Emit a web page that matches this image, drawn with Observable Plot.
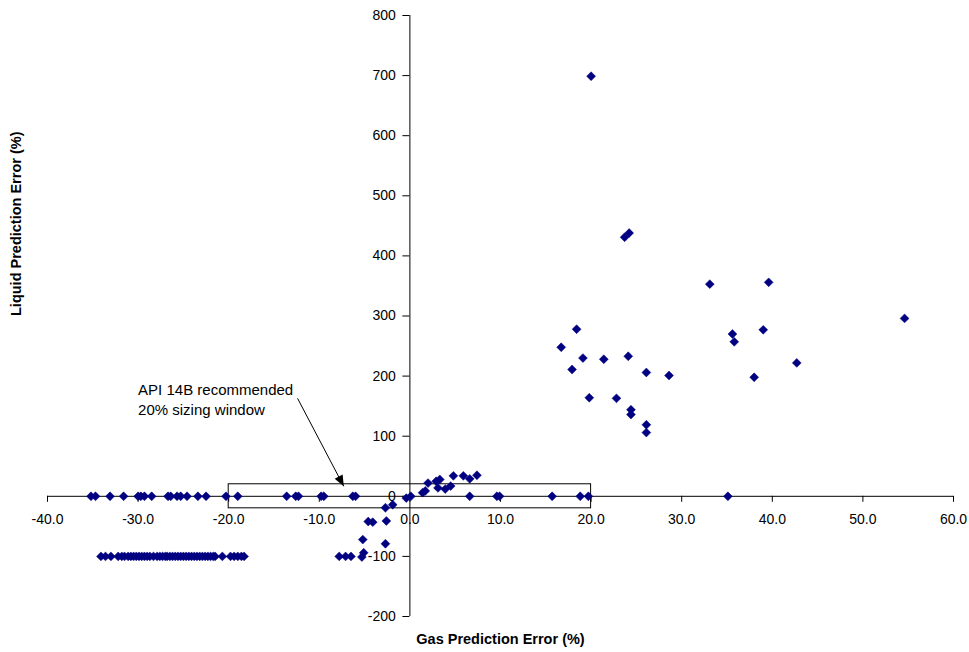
<!DOCTYPE html>
<html>
<head>
<meta charset="utf-8">
<script src="https://cdn.jsdelivr.net/npm/d3@7"></script>
<script src="https://cdn.jsdelivr.net/npm/@observablehq/plot@0.6"></script>
<style>
  html, body { margin: 0; padding: 0; background: #fff; }
  #chart svg { display: block; }
</style>
</head>
<body>
<div id="chart"></div>
<script>
// Gas prediction error (%) and liquid prediction error (%) for each test point
const gasError = [
  // liquid error = 0 row, negative gas error
  -35.2, -34.7, -33.1, -31.6, -30.0, -29.7, -29.3, -28.5, -26.7, -26.4, -25.7, -25.3,
  -24.6, -23.4, -22.5, -20.3, -19.0, -13.6, -12.6, -12.3, -9.8, -9.5, -6.3, -6.0,
  // near origin
  -0.4, 0.1, 1.4, 1.7, 2.0, 2.9, 3.3, 3.1, 3.9, 4.5, 4.8, 5.9, 6.6, 7.4,
  // liquid error = 0 row, positive gas error
  6.6, 9.6, 9.9, 15.7, 18.8, 19.7, 35.1,
  // small negative
  -1.9, -2.7, -2.6, -4.6, -4.1, -5.2, -2.7, -5.3, -5.1, -7.8, -7.1, -6.5,
  // liquid error = -100 row
  -34.1, -33.6, -33.0, -32.2, -31.8, -31.5, -31.1, -30.8, -30.5, -30.2, -29.9, -29.6,
  -29.3, -29.0, -28.7, -28.3, -27.9, -27.6, -27.3, -27.0, -26.8, -26.5, -26.2, -25.9,
  -25.6, -25.3, -25.0, -24.7, -24.4, -24.1, -23.8, -23.5, -23.2, -22.9, -22.6, -22.3,
  -22.0, -21.7, -21.5, -20.7, -19.8, -19.4, -19.0, -18.6, -18.3,
  // upper right
  20.0, 23.7, 24.2, 33.1, 39.6, 54.6, 18.4, 16.7, 19.1, 21.4, 24.1, 17.9, 26.1, 28.6,
  19.8, 22.8, 24.4, 24.4, 26.1, 26.1, 35.6, 35.8, 39.0, 42.7, 38.0
];
const liquidError = [
  0, 0, 0, 0, 0, 0, 0, 0, 0, 0, 0, 0,
  0, 0, 0, 0, 0, 0, 0, 0, 0, 0, 0, 0,
  -3, 0, 6, 9, 22, 25, 28, 14, 12, 17, 34, 34, 29, 35,
  0, 0, 0, 0, 0, 0, 0,
  -14, -19, -41, -42, -43, -72, -79, -101, -94, -100, -100, -100,
  -100, -100, -100, -100, -100, -100, -100, -100, -100, -100, -100, -100,
  -100, -100, -100, -100, -100, -100, -100, -100, -100, -100, -100, -100,
  -100, -100, -100, -100, -100, -100, -100, -100, -100, -100, -100, -100,
  -100, -100, -100, -100, -100, -100, -100, -100, -100,
  699, 431, 438, 353, 356, 296, 278, 248, 230, 228, 233, 211, 206, 201,
  164, 163, 144, 136, 119, 106, 270, 257, 277, 222, 198
];

const xTicks = [-40, -30, -20, -10, 0, 10, 20, 30, 40, 50, 60];
const yTicks = [-200, -100, 0, 100, 200, 300, 400, 500, 600, 700, 800];

// API 14B recommended 20% sizing window
const windowGas = [-20, 20];
const windowLiquid = [-20, 20];

// annotation
const noteText = "API 14B recommended\n20% sizing window";
const notePos = [-30.0, 162];
const arrowFrom = [-12.4, 163];
const arrowTo = [-7.3, 16.6];

const xLabel = "Gas Prediction Error (%)";
const yLabel = "Liquid Prediction Error (%)";

const font = "'Liberation Sans', Arial, Helvetica, sans-serif";

const arrowHead = {
  draw(ctx) {
    ctx.moveTo(0, 0);
    ctx.lineTo(-4.5, -11);
    ctx.lineTo(4.5, -11);
    ctx.closePath();
  }
};
const arrowAngle = -Math.atan2(46, 88) * 180 / Math.PI;

const chart = Plot.plot({
  width: 969,
  height: 652,
  marginLeft: 47,
  marginRight: 16,
  marginTop: 15,
  marginBottom: 36,
  x: { domain: [xTicks[0], xTicks[xTicks.length - 1]], axis: null },
  y: { domain: [yTicks[0], yTicks[yTicks.length - 1]], axis: null },
  style: { fontFamily: font, background: "#fff", color: "#000" },
  marks: [
    // sizing window
    Plot.rect([0], {
      x1: windowGas[0], x2: windowGas[1], y1: windowLiquid[0], y2: windowLiquid[1],
      fill: "none", stroke: "#000", strokeWidth: 1
    }),
    // axes lines through zero
    Plot.ruleY([0], { x1: xTicks[0], x2: xTicks[xTicks.length - 1], stroke: "#000" }),
    Plot.ruleX([0], { y1: yTicks[0], y2: yTicks[yTicks.length - 1], stroke: "#000" }),
    // tick marks
    Plot.ruleX(xTicks, { x: d => d, y1: 0, y2: 0, insetBottom: -6, stroke: "#000" }),
    Plot.ruleY(yTicks, { y: d => d, x1: 0, x2: 0, insetLeft: -7, stroke: "#000" }),
    // tick labels
    Plot.text(xTicks, { x: d => d, y: 0, dy: 23, text: d => d.toFixed(1), fontSize: 14, fill: "#000" }),
    Plot.text(yTicks, { x: 0, y: d => d, dx: -14, textAnchor: "end", text: d => String(d), fontSize: 14, fill: "#000" }),
    // annotation
    Plot.text([noteText], { x: notePos[0], y: notePos[1], text: d => d, textAnchor: "start", lineHeight: 1.3, fontSize: 15, fill: "#000" }),
    Plot.link([0], { x1: arrowFrom[0], y1: arrowFrom[1], x2: arrowTo[0], y2: arrowTo[1], stroke: "#000", strokeWidth: 1 }),
    Plot.dot([0], { x: arrowTo[0], y: arrowTo[1], symbol: arrowHead, fill: "#000", stroke: "none", rotate: arrowAngle }),
    // data points
    Plot.dot(gasError, { x: gasError, y: liquidError, symbol: "diamond2", r: 4, fill: "#000080", stroke: "#000080", strokeWidth: 0.5 }),
    // axis titles
    Plot.text([xLabel], { frameAnchor: "bottom", dy: 27, text: d => d, fontWeight: "bold", fontSize: 14.5, fill: "#000" }),
    Plot.text([yLabel], { frameAnchor: "left", dx: -31, rotate: -90, text: d => d, fontWeight: "bold", fontSize: 14.5, fill: "#000" })
  ]
});

document.getElementById("chart").appendChild(chart);
</script>
</body>
</html>
